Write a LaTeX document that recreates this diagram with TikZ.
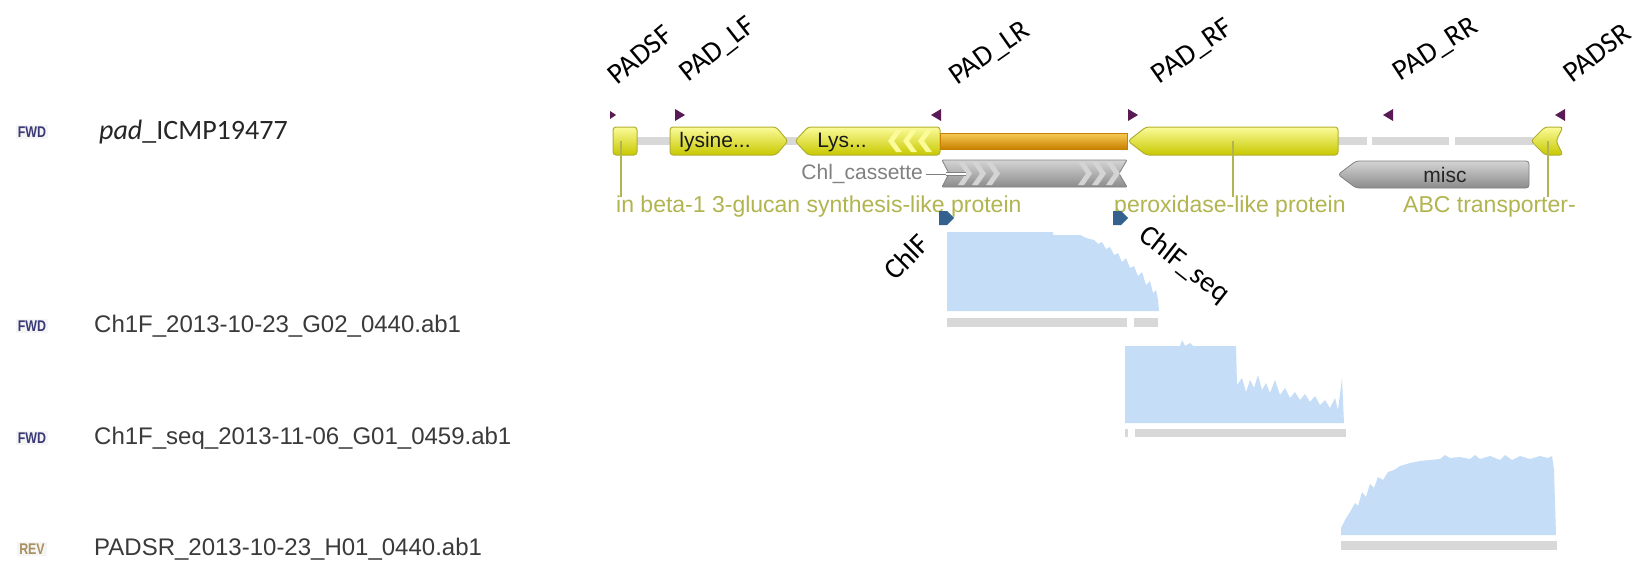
\documentclass[tikz,border=0pt]{standalone}
\usepackage{fontspec}
\setmainfont{Liberation Sans}
\newfontfamily\calfont{Carlito}
\usepackage{graphicx}
\definecolor{primerpurple}{HTML}{5A1A55}
\definecolor{ylwtop}{HTML}{FBFB9A}
\definecolor{ylwmid}{HTML}{F0F000}
\definecolor{ylwbot}{HTML}{C8C800}
\definecolor{ylwdraw}{HTML}{B0B030}
\definecolor{orgtop}{HTML}{F8CC55}
\definecolor{orgmid}{HTML}{E8A317}
\definecolor{orgbot}{HTML}{C88000}
\definecolor{gtop}{HTML}{D4D4D4}
\definecolor{gmid}{HTML}{ABABAB}
\definecolor{gbot}{HTML}{8C8C8C}
\definecolor{gdraw}{HTML}{808080}
\definecolor{backbone}{HTML}{D8D8D8}
\definecolor{olive}{HTML}{B2B450}
\definecolor{bluemark}{HTML}{35618F}
\definecolor{chromblue}{HTML}{C6DDF7}
\definecolor{bargray}{HTML}{D8D8D8}
\definecolor{txtgray}{HTML}{3A3A3A}
\definecolor{fwdnavy}{HTML}{3A3A78}
\definecolor{revtan}{HTML}{A89060}
\tikzset{
  ptext/.style={font=\calfont\fontsize{29}{32}\selectfont, inner sep=0pt, text=black},
  ftext/.style={font=\fontsize{23}{26}\selectfont, inner sep=0pt},
  fin/.style={font=\fontsize{21}{24}\selectfont, inner sep=0pt},
  rowtext/.style={font=\fontsize{24}{28}\selectfont, inner sep=0pt, text=txtgray, anchor=west},
  dirtext/.style={font=\bfseries\fontsize{15.5}{17}\selectfont, inner sep=2pt, fill=black!4},
  primertri/.style={fill=primerpurple, draw=none},
  yfeat/.style={top color=ylwtop, middle color=ylwmid, bottom color=ylwbot, draw=ylwdraw, line width=1pt, rounded corners=3pt},
  gfeat/.style={top color=gtop, middle color=gmid, bottom color=gbot, draw=gdraw, line width=0.8pt, rounded corners=3pt},
  ofeat/.style={top color=orgtop, middle color=orgmid, bottom color=orgbot, draw=orgbot, line width=0.8pt},
  bbone/.style={draw=backbone, line width=8pt},
  lblline/.style={draw=olive, line width=1.2pt},
  bmark/.style={fill=bluemark, draw=none},
  chrom/.style={fill=chromblue, draw=none},
  chrombar/.style={fill=bargray, draw=none}
}
\begin{document}
\begin{tikzpicture}[x=1pt,y=-1pt]
\useasboundingbox (0,0) rectangle (1639,565);
\fill[white] (0,0) rectangle (1639,565);

% ---- left column
\node[dirtext, text=fwdnavy] (d1) at (32,132) {\scalebox{0.8}[1]{FWD}};
\node[dirtext, text=fwdnavy] (d2) at (32,326) {\scalebox{0.8}[1]{FWD}};
\node[dirtext, text=fwdnavy] (d3) at (32,438) {\scalebox{0.8}[1]{FWD}};
\node[dirtext, text=revtan]  (d4) at (32,549) {\scalebox{0.8}[1]{REV}};
\node[rowtext, font=\calfont\fontsize{28}{30}\selectfont, text=black!85] (r1) at (99,132) {\textit{pad}\_ICMP19477};
\node[rowtext] (r2) at (94,326) {Ch1F\_2013-10-23\_G02\_0440.ab1};
\node[rowtext] (r3) at (94,438) {Ch1F\_seq\_2013-11-06\_G01\_0459.ab1};
\node[rowtext] (r4) at (94,549) {PADSR\_2013-10-23\_H01\_0440.ab1};

% ---- backbone
\draw[bbone] (637,141) -- (670,141);
\draw[bbone] (786,141) -- (797,141);
\draw[bbone] (1336,141) -- (1367,141);
\draw[bbone] (1372,141) -- (1449,141);
\draw[bbone] (1455,141) -- (1533,141);

% ---- label connector anchors
\coordinate (bt) at (621,141);
\coordinate (pt) at (1233,141);
\coordinate (at) at (1548,141);

% ---- features on the main track
\draw[yfeat] (613,127) rectangle (637,155);
\draw[yfeat] (670,127) -- (776,127) -- (788,141) -- (776,155) -- (670,155) -- cycle;
\node[fin, text=black!90] (lysine) at (715,142) {lysine...};
\draw[yfeat] (795,141) -- (808,127) -- (940,127) -- (940,155) -- (808,155) -- cycle;
\foreach \cx in {888,903,918}{
  \fill[ylwtop] (\cx+8,130) -- (\cx,141) -- (\cx+8,152) -- (\cx+14,152) -- (\cx+6,141) -- (\cx+14,130) -- cycle;
}
\node[fin, text=black!90] (lys) at (842,142) {Lys...};
\draw[ofeat] (940,133) rectangle (1127,149);
\draw[yfeat] (1128,141) -- (1146,127) -- (1338,127) -- (1338,155) -- (1146,155) -- cycle;
\draw[yfeat] (1531,141) -- (1545,127) -- (1563,127) -- (1556,141) -- (1563,155) -- (1545,155) -- cycle;

% ---- second track
\draw[gfeat, rounded corners=1pt] (942,160) -- (1127,160) -- (1119,173.5) -- (1127,187) -- (942,187) -- (949,173.5) -- cycle;
\foreach \cx in {958,972,986,1078,1092,1106}{
  \fill[gtop] (\cx,162) -- (\cx+8,173.5) -- (\cx,185) -- (\cx+6,185) -- (\cx+14,173.5) -- (\cx+6,162) -- cycle;
}
\node[fin, text=black!50, anchor=east] (chl) at (923,174) {Chl\_cassette};
\draw[black!50, line width=1pt] ([xshift=3pt]chl.east) -- (946,174);
\draw[black!50, line width=0.8pt, double=white, double distance=2.5pt] (946,174) -- (966,174);
\draw[gfeat] (1338,174.5) -- (1356,161) -- (1529,161) -- (1529,188) -- (1356,188) -- cycle;
\node[fin, text=black!85] (misc) at (1445,175) {misc};

% ---- feature labels
\node[ftext, text=olive, anchor=west] (beta) at (616,207) {in beta-1 3-glucan synthesis-like protein};
\node[ftext, text=olive, anchor=west] (perox) at (1114,207) {peroxidase-like protein};
\node[ftext, text=olive, anchor=west] (abc) at (1403,207) {ABC transporter-};
\draw[lblline] (bt) -- (621,197);
\draw[lblline] (pt) -- (1233,197);
\draw[lblline] (at) -- (1548,197);

% ---- primer triangles
\fill[primertri] (610,111) -- (616,115) -- (610,119) -- cycle;
\fill[primertri] (675,109) -- (685,115) -- (675,121) -- cycle;
\fill[primertri] (941,109) -- (931,115) -- (941,121) -- cycle;
\fill[primertri] (1128,109) -- (1138,115) -- (1128,121) -- cycle;
\fill[primertri] (1393,109) -- (1383,115) -- (1393,121) -- cycle;
\fill[primertri] (1565,109) -- (1555,115) -- (1565,121) -- cycle;

% ---- primer labels
\node[ptext, rotate=40] (padsf) at (640,55) {PADSF};
\node[ptext, rotate=38] (padlf) at (718,50) {PAD\_LF};
\node[ptext, rotate=35] (padlr) at (990,54) {PAD\_LR};
\node[ptext, rotate=35] (padrf) at (1193,52) {PAD\_RF};
\node[ptext, rotate=33] (padrr) at (1436,50) {PAD\_RR};
\node[ptext, rotate=37] (padsr) at (1597,53) {PADSR};

% ---- blue markers and labels
\fill[bmark] (939,211) -- (947,211) -- (954,218) -- (947,225) -- (939,225) -- cycle;
\fill[bmark] (1113,211) -- (1121,211) -- (1128,218) -- (1121,225) -- (1113,225) -- cycle;
\node[ptext, rotate=45] (chlf) at (906,257) {ChlF};
\node[ptext, rotate=-38] (chlfseq) at (1184,265) {ChlF\_seq};

% ---- chromatograms
\fill[chrom] (947,311) -- (947,232) -- (1053,232) -- (1053,235) -- (1080,235) -- (1086,238) -- (1094,240) -- (1098,244) -- (1102,242) -- (1106,249) -- (1110,247) -- (1114,255) -- (1118,253) -- (1122,262) -- (1126,258) -- (1130,268) -- (1134,266) -- (1138,276) -- (1142,272) -- (1146,285) -- (1150,281) -- (1153,293) -- (1156,290) -- (1158,300) -- (1159,311) -- cycle;
\fill[chrombar] (947,318) rectangle (1127,327);
\fill[chrombar] (1134,318) rectangle (1158,327);

\fill[chrom] (1125,423) -- (1125,346) -- (1180,346) -- (1182,340) -- (1185,346) -- (1190,343) -- (1193,346) -- (1236,346) -- (1237,385) -- (1242,378) -- (1246,392) -- (1250,380) -- (1254,388) -- (1258,375) -- (1262,390) -- (1266,383) -- (1270,393) -- (1275,380) -- (1280,395) -- (1285,388) -- (1290,398) -- (1295,392) -- (1300,400) -- (1305,394) -- (1310,402) -- (1315,396) -- (1320,405) -- (1325,400) -- (1330,408) -- (1335,398) -- (1338,410) -- (1342,378) -- (1344,423) -- cycle;
\fill[chrombar] (1125,429) rectangle (1128,437);
\fill[chrombar] (1135,429) rectangle (1346,437);

\fill[chrom] (1341,535) -- (1341,528) -- (1345,520) -- (1350,512) -- (1355,503) -- (1358,506) -- (1362,492) -- (1366,497) -- (1370,484) -- (1374,488) -- (1378,477) -- (1383,480) -- (1388,472) -- (1394,470) -- (1400,466) -- (1410,463) -- (1420,461) -- (1440,459) -- (1445,455) -- (1450,458) -- (1460,457) -- (1470,459) -- (1475,455) -- (1480,459) -- (1490,456) -- (1500,460) -- (1505,455) -- (1512,460) -- (1520,456) -- (1530,459) -- (1540,456) -- (1548,458) -- (1552,456) -- (1554,470) -- (1556,535) -- cycle;
\fill[chrombar] (1341,541) rectangle (1557,550);
\end{tikzpicture}
\end{document}
